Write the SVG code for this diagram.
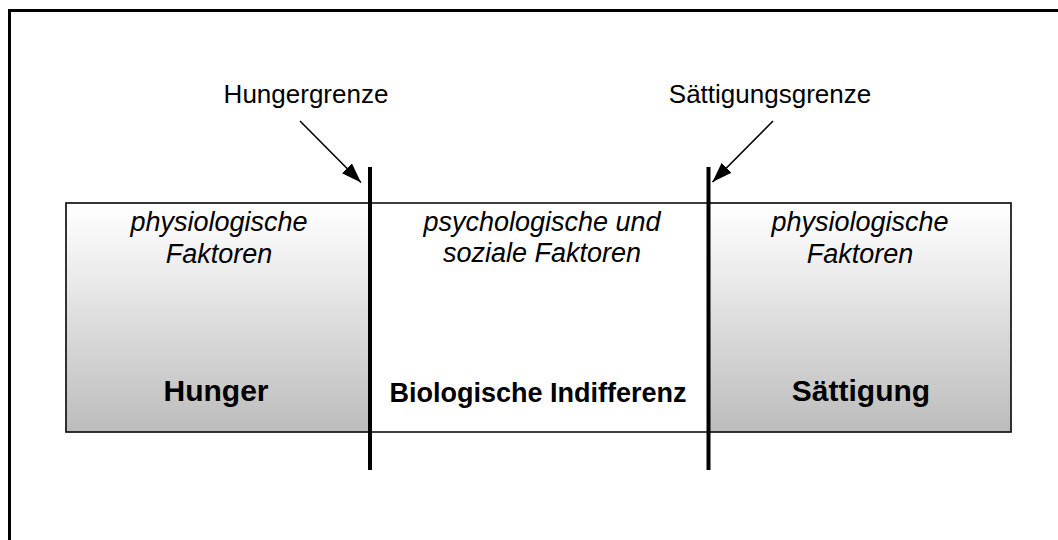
<svg xmlns="http://www.w3.org/2000/svg" width="1058" height="540" viewBox="0 0 1058 540">
  <defs>
    <linearGradient id="g" x1="0" y1="0" x2="0" y2="1">
      <stop offset="0" stop-color="#ffffff"/>
      <stop offset="0.2" stop-color="#f3f3f3"/>
      <stop offset="1" stop-color="#bcbcbc"/>
    </linearGradient>
    <marker id="ah" viewBox="0 0 20 14" refX="20" refY="7" markerWidth="20" markerHeight="14" markerUnits="userSpaceOnUse" orient="auto">
      <path d="M0,0 L20,7 L0,14 Z" fill="#000"/>
    </marker>
  </defs>
  <style>
    text { font-family: "Liberation Sans", Arial, sans-serif; fill: #000; text-anchor: middle; }
    .lbl { font-size: 26px; }
    .it { font-size: 27px; font-style: italic; }
    .big { font-size: 30px; font-weight: bold; }
    .mid { font-size: 27px; font-weight: bold; }
    .bar { stroke: #000; stroke-width: 4; }
    .arr { stroke: #000; stroke-width: 1.6; fill: none; marker-end: url(#ah); }
  </style>
  <rect x="0" y="0" width="1058" height="540" fill="#fff"/>
  <path d="M9.5,545 L9.5,10.5 L1065,10.5" fill="none" stroke="#000" stroke-width="3"/>

  <g id="node-hunger">
    <rect x="66" y="203" width="304" height="229" fill="url(#g)" stroke="#888" stroke-width="1"/>
    <text class="it" x="219" y="231">physiologische</text>
    <text class="it" x="219" y="263">Faktoren</text>
    <text class="big" x="216" y="401">Hunger</text>
  </g>
  <g id="node-indifferenz">
    <rect x="370" y="203" width="338" height="229" fill="#fff"/>
    <text class="it" x="542" y="231">psychologische und</text>
    <text class="it" x="542" y="262">soziale Faktoren</text>
    <text class="mid" x="538" y="402">Biologische Indifferenz</text>
  </g>
  <g id="node-saettigung">
    <rect x="708" y="203" width="303" height="229" fill="url(#g)" stroke="#888" stroke-width="1"/>
    <text class="it" x="860" y="231">physiologische</text>
    <text class="it" x="860" y="263">Faktoren</text>
    <text class="big" x="861" y="401">Sättigung</text>
  </g>
  <rect x="66" y="203" width="945" height="229" fill="none" stroke="#111" stroke-width="1.6"/>

  <g id="node-hungergrenze">
    <line class="bar" x1="370" y1="167" x2="370" y2="470"/>
    <text class="lbl" x="306" y="103">Hungergrenze</text>
  </g>
  <g id="node-saettigungsgrenze">
    <line class="bar" x1="708.5" y1="167" x2="708.5" y2="470"/>
    <text class="lbl" x="770" y="103">Sättigungsgrenze</text>
  </g>

  <g id="connectors">
    <line class="arr" x1="300" y1="121" x2="361" y2="182.5"/>
    <line class="arr" x1="773" y1="121" x2="712.5" y2="182"/>
  </g>
</svg>
